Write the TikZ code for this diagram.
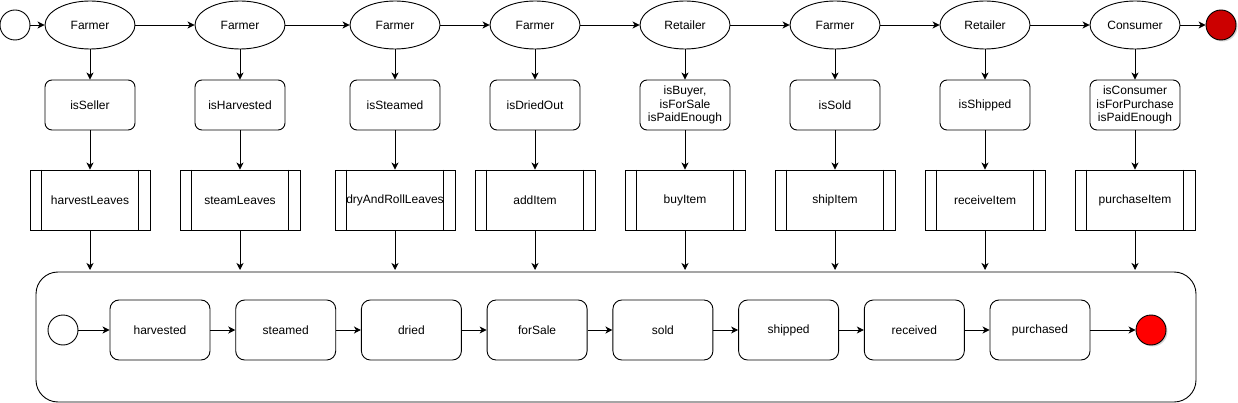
\documentclass[tikz,border=0pt]{standalone}
\usepackage{fontspec}
\setmainfont{Liberation Sans}
\usetikzlibrary{shapes.geometric,arrows.meta,shadows}
\definecolor{darkred}{HTML}{CC0000}
\definecolor{brightred}{HTML}{FF0000}
\begin{document}
\begin{tikzpicture}[x=1pt,y=-1pt,
  every node/.style={font=\fontsize{12}{13.5}\selectfont, inner sep=0pt},
  line/.style={draw=black, line width=0.9pt},
  arr/.style={line, -{Stealth[length=7pt,width=7pt,inset=2pt]}},
  actor/.style={ellipse, line, fill=white, minimum width=90pt, minimum height=48pt},
  cond/.style={rectangle, rounded corners=7pt, line, fill=white, minimum width=90pt, minimum height=50pt, align=center},
  proc/.style={rectangle, line, fill=white, minimum width=120pt, minimum height=60pt},
  state/.style={rectangle, rounded corners=9pt, line, fill=white, minimum width=100pt, minimum height=60pt},
  startc/.style={circle, line, fill=white, minimum size=30pt},
  endc/.style={circle, line, minimum size=30pt, drop shadow={shadow xshift=1.5pt, shadow yshift=-1.5pt, opacity=0.35}},
]
\useasboundingbox (0,0) rectangle (1238,403);

% container
\node[rectangle, rounded corners=22pt, line, minimum width=1160pt, minimum height=130pt] (cont) at (616,337) {};

% top row
\node[startc] (s0) at (15,25) {};
\node[endc, fill=darkred] (e0) at (1221,25) {};

\foreach \i/\x/\who/\cnd/\prc in {
  1/90/Farmer/isSeller/harvestLeaves,
  2/240/Farmer/isHarvested/steamLeaves,
  3/395/Farmer/isSteamed/dryAndRollLeaves,
  4/535/Farmer/isDriedOut/addItem,
  5/685/Retailer/{isBuyer,\\isForSale\\isPaidEnough}/buyItem,
  6/835/Farmer/isSold/shipItem,
  7/985/Retailer/isShipped/receiveItem,
  8/1135/Consumer/{isConsumer\\isForPurchase\\isPaidEnough}/purchaseItem}{
  \node[actor] (a\i) at (\x,25) {\who};
  \node[cond] (c\i) at (\x,105) {\cnd};
  \node[proc] (p\i) at (\x,200) {};
  \draw[line] ([xshift=12pt]p\i.north west) -- ([xshift=12pt]p\i.south west);
  \draw[line] ([xshift=-12pt]p\i.north east) -- ([xshift=-12pt]p\i.south east);
  \node at (p\i.center) {\prc};
  \coordinate (t\i) at (\x,270);
  \draw[arr] (a\i) -- (c\i);
  \draw[arr] (c\i) -- (p\i);
  \draw[arr] (p\i) -- (t\i);
}

\draw[arr] (s0) -- (a1);
\foreach \i [evaluate=\i as \j using int(\i+1)] in {1,...,7}{
  \draw[arr] (a\i) -- (a\j);
}
\draw[arr] (a8) -- (e0);

% bottom row
\node[startc] (s1) at (63,330) {};
\node[endc, fill=brightred] (e1) at (1151,330) {};
\foreach \i/\x/\txt in {1/160/harvested,2/285.7/steamed,3/411.4/dried,4/537.1/forSale,5/662.9/sold,6/788.6/shipped,7/914.3/received,8/1040/purchased}{
  \node[state] (b\i) at (\x,330) {\txt};
}
\draw[arr] (s1) -- (b1);
\foreach \i [evaluate=\i as \j using int(\i+1)] in {1,...,7}{
  \draw[arr] (b\i) -- (b\j);
}
\draw[arr] (b8) -- (e1);
\end{tikzpicture}
\end{document}
